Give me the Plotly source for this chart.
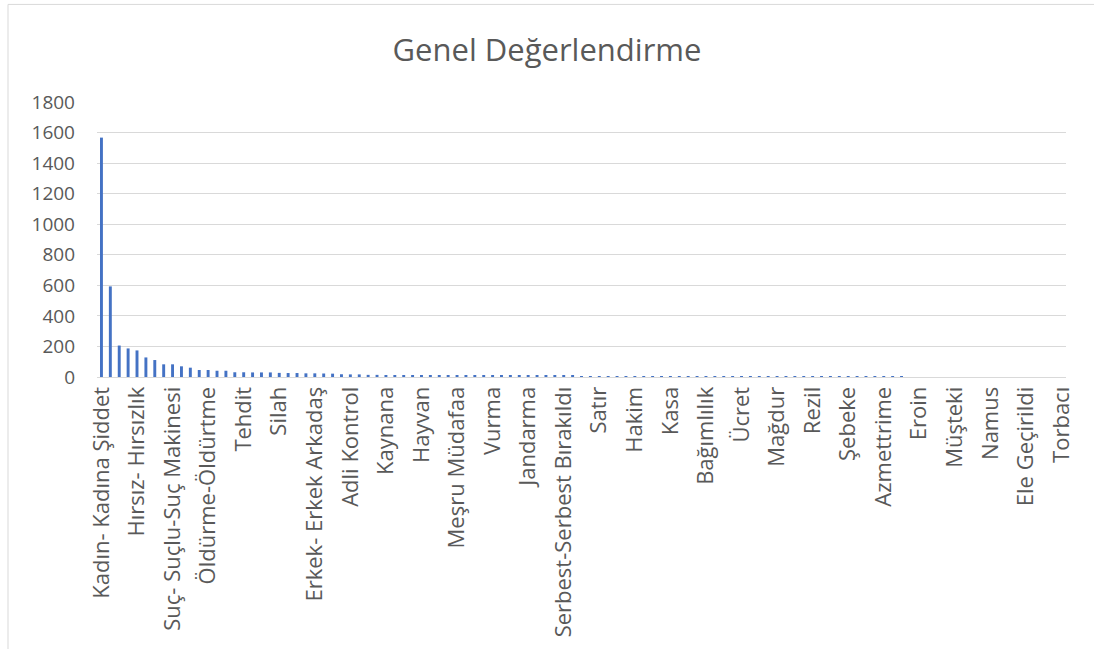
import plotly.graph_objects as go

# Category positions (index) and the labels Excel shows (every 4th category)
n_categories = 109
label_positions = list(range(0, 109, 4))
label_texts = [
    "Kadın- Kadına Şiddet", "Hırsız- Hırsızlık", "Suç- Suçlu-Suç Makinesi",
    "Öldürme-Öldürtme", "Tehdit", "Silah", "Erkek- Erkek Arkadaş",
    "Adli Kontrol", "Kaynana", "Hayvan", "Meşru Müdafaa", "Vurma",
    "Jandarma", "Serbest-Serbest Bırakıldı", "Satır", "Hakim", "Kasa",
    "Bağımlılık", "Ücret", "Mağdur", "Rezil", "Şebeke", "Azmettrime",
    "Eroin", "Müşteki", "Namus", "Ele Geçirildi", "Torbacı",
]

values = [
    1567, 593, 206, 187, 174, 128, 111, 83, 83, 70,
    61, 46, 46, 41, 41, 31, 31, 30, 30, 30,
    27, 26, 26, 24, 24, 23, 22, 18, 17, 17,
    14, 14, 13, 13, 13, 12, 12, 10, 10, 10,
    10, 9, 9, 9, 9, 9, 9, 8, 8, 8,
    8, 8, 8, 8, 6, 6, 6, 6, 6, 6,
    6, 6, 6, 6, 6, 6, 6, 6, 6, 6,
    6, 6, 6, 6, 4, 4, 4, 4, 4, 4,
    4, 4, 4, 4, 4, 4, 4, 4, 4, 4,
    4, 0, 0, 0, 0, 0, 0, 0, 0, 0,
    0, 0, 0, 0, 0, 0, 0, 0, 0,
]
x_index = list(range(n_categories))

y_ticks = [0, 200, 400, 600, 800, 1000, 1200, 1400, 1600, 1800]

FONT = "Open Sans, Segoe UI, Calibri, sans-serif"
GRAY = "#595959"

fig = go.Figure(
    go.Bar(
        x=x_index,
        y=values,
        marker=dict(color="#4472C4", line=dict(width=0)),
        width=0.33,
    )
)

fig.update_layout(
    width=1094,
    height=649,
    autosize=False,
    paper_bgcolor="white",
    plot_bgcolor="white",
    margin=dict(l=97, r=28, t=102, b=268),
    title=dict(
        text="Genel Değerlendirme",
        x=0.5,
        xanchor="center",
        y=1 - 50 / 649,
        yanchor="middle",
        font=dict(family=FONT, size=31, color=GRAY),
    ),
    showlegend=False,
    font=dict(family=FONT, color=GRAY),
)

fig.update_xaxes(
    range=[-0.5, n_categories - 0.5],
    tickmode="array",
    tickvals=label_positions,
    ticktext=label_texts,
    tickangle=-90,
    tickfont=dict(family=FONT, size=22, color=GRAY),
    showgrid=False,
    showline=True,
    linecolor="#d9d9d9",
    linewidth=1,
    ticks="",
    zeroline=False,
)

fig.update_yaxes(
    range=[0, 1800],
    tickmode="array",
    tickvals=y_ticks,
    tickfont=dict(family=FONT, size=19, color=GRAY),
    showgrid=True,
    gridcolor="#d9d9d9",
    gridwidth=1,
    zeroline=False,
    showline=False,
    ticks="",
    ticklabelstandoff=21,
)

# chart-area border
fig.add_shape(
    type="rect", xref="paper", yref="paper",
    x0=(8 - 97) / 969, x1=(1100 - 97) / 969,
    y0=(381 - 660) / 279, y1=(381 - 3) / 279,
    line=dict(color="#d9d9d9", width=1),
    fillcolor="rgba(0,0,0,0)",
    layer="below",
)

fig.write_html(
    "out.html",
    config={"displayModeBar": False},
    post_script="document.body.style.margin='0';document.body.style.overflow='hidden';",
)
